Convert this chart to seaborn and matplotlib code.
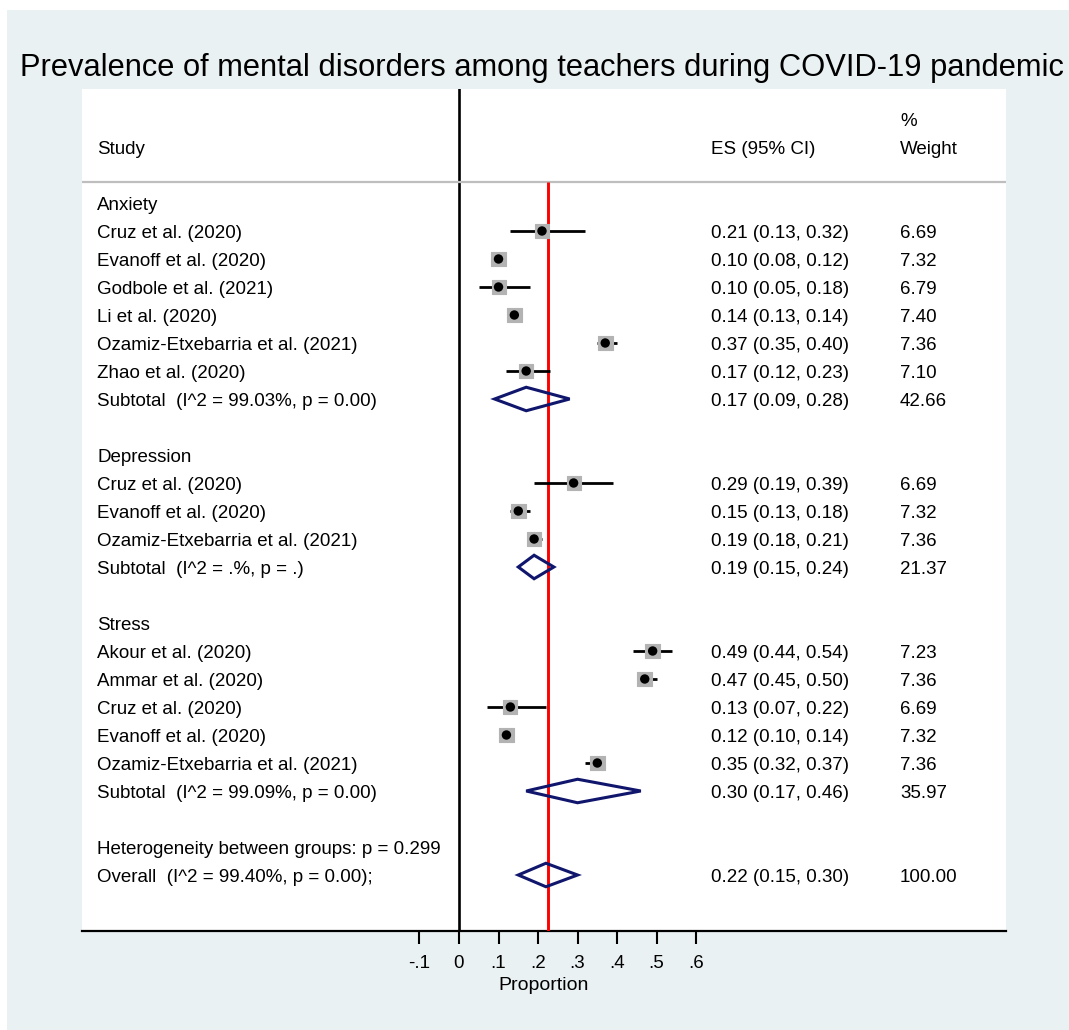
import matplotlib
matplotlib.use("Agg")
import matplotlib.pyplot as plt
from matplotlib.patches import Rectangle, Polygon
import seaborn as sns
import pandas as pd

# ---------------- data ----------------
title = "Prevalence of mental disorders among teachers during COVID-19 pandemic"

groups = ["Anxiety", "Depression", "Stress"]

anx_studies = ["Cruz et al. (2020)", "Evanoff et al. (2020)", "Godbole et al. (2021)",
               "Li et al. (2020)", "Ozamiz-Etxebarria et al. (2021)", "Zhao et al. (2020)"]
anx_es = [0.21, 0.10, 0.10, 0.14, 0.37, 0.17]
anx_lo = [0.13, 0.08, 0.05, 0.13, 0.35, 0.12]
anx_hi = [0.32, 0.12, 0.18, 0.14, 0.40, 0.23]
anx_w = [6.69, 7.32, 6.79, 7.40, 7.36, 7.10]
anx_sub = [0.17, 0.09, 0.28, 42.66]
anx_sub_label = "Subtotal  (I^2 = 99.03%, p = 0.00)"

dep_studies = ["Cruz et al. (2020)", "Evanoff et al. (2020)", "Ozamiz-Etxebarria et al. (2021)"]
dep_es = [0.29, 0.15, 0.19]
dep_lo = [0.19, 0.13, 0.18]
dep_hi = [0.39, 0.18, 0.21]
dep_w = [6.69, 7.32, 7.36]
dep_sub = [0.19, 0.15, 0.24, 21.37]
dep_sub_label = "Subtotal  (I^2 = .%, p = .)"

str_studies = ["Akour et al. (2020)", "Ammar et al. (2020)", "Cruz et al. (2020)",
               "Evanoff et al. (2020)", "Ozamiz-Etxebarria et al. (2021)"]
str_es = [0.49, 0.47, 0.13, 0.12, 0.35]
str_lo = [0.44, 0.45, 0.07, 0.10, 0.32]
str_hi = [0.54, 0.50, 0.22, 0.14, 0.37]
str_w = [7.23, 7.36, 6.69, 7.32, 7.36]
str_sub = [0.30, 0.17, 0.46, 35.97]
str_sub_label = "Subtotal  (I^2 = 99.09%, p = 0.00)"

het_label = "Heterogeneity between groups: p = 0.299"
overall = [0.22, 0.15, 0.30, 100.00]
overall_label = "Overall  (I^2 = 99.40%, p = 0.00);"

xticks = [-0.1, 0.0, 0.1, 0.2, 0.3, 0.4, 0.5, 0.6]
xtick_labels = ["-.1", "0", ".1", ".2", ".3", ".4", ".5", ".6"]

# ---------------- build rows ----------------
rows = []
blocks = [
    ("Anxiety", anx_studies, anx_es, anx_lo, anx_hi, anx_w, anx_sub, anx_sub_label),
    ("Depression", dep_studies, dep_es, dep_lo, dep_hi, dep_w, dep_sub, dep_sub_label),
    ("Stress", str_studies, str_es, str_lo, str_hi, str_w, str_sub, str_sub_label),
]
for g, st, es, lo, hi, w, sub, sublab in blocks:
    rows.append(dict(label=g, kind="group"))
    for s, e, l, h, ww in zip(st, es, lo, hi, w):
        rows.append(dict(label=s, kind="study", es=e, lo=l, hi=h, w=ww))
    rows.append(dict(label=sublab, kind="diamond", es=sub[0], lo=sub[1], hi=sub[2], w=sub[3]))
    rows.append(dict(label="", kind="blank"))
rows.append(dict(label=het_label, kind="text"))
rows.append(dict(label=overall_label, kind="diamond", es=overall[0], lo=overall[1],
                 hi=overall[2], w=overall[3]))
for i, r in enumerate(rows):
    r["y"] = i
df = pd.DataFrame(rows)
studies = df[df.kind == "study"].copy()
diamonds = df[df.kind == "diamond"].copy()

# ---------------- figure ----------------
W, H = 1069, 1030
FONT = "Liberation Sans"
plt.rcParams["font.family"] = [FONT, "DejaVu Sans"]
fig = plt.figure(figsize=(W / 100, H / 100), dpi=100, facecolor="white")
bg = Rectangle((7 / W, 0), 1 - 7 / W, 1 - 10 / H, transform=fig.transFigure,
               facecolor="#EAF1F3", edgecolor="none", zorder=-10)
fig.patches.append(bg)

ax_left, ax_right, ax_top, ax_bot = 82, 1006, 89, 931
ax = fig.add_axes([ax_left / W, 1 - ax_bot / H, (ax_right - ax_left) / W, (ax_bot - ax_top) / H])
ax.set_facecolor("white")

px_per_unit = 395.2
x0px = 459
row0px, rowpx = 203, 28
xmin = (ax_left - x0px) / px_per_unit
xmax = (ax_right - x0px) / px_per_unit
ymin = (ax_top - row0px) / rowpx
ymax = (ax_bot - row0px) / rowpx
ax.set_xlim(xmin, xmax)
ax.set_ylim(ymax, ymin)

fs = 13.5
cap_off = 0.716 * fs * 100 / 72 / 2 / rowpx  # half cap height in row units
line_y = (181.5 - row0px) / rowpx

# reference lines
ax.axvline(0, color="black", lw=1.9, zorder=2)
ax.vlines(overall[0] + 0.004, line_y, ymax, color="#FF0000", lw=2.1, zorder=4)
ax.hlines(line_y, xmin, xmax, color="#BEBEBE", lw=1.6, zorder=3)

# CIs
ax.hlines(studies.y, studies.lo, studies.hi, color="black", lw=2.0, zorder=5)
# weight boxes
sns.scatterplot(data=studies, x="es", y="y", size="w", sizes=(100, 112), marker="s",
                color="#B3B3B3", edgecolor="#B3B3B3", linewidth=0.8, legend=False,
                ax=ax, zorder=6)
# point estimates
sns.scatterplot(data=studies, x="es", y="y", s=46, marker="o", color="black",
                edgecolor="none", legend=False, ax=ax, zorder=7)

# diamonds
dh = 0.42
for _, r in diamonds.iterrows():
    poly = Polygon([(r.lo, r.y), (r.es, r.y - dh), (r.hi, r.y), (r.es, r.y + dh)],
                   closed=True, fill=False, edgecolor="#10166C", lw=2.2, zorder=8)
    ax.add_patch(poly)

# text columns
xs = (97 - x0px) / px_per_unit
xe = (711 - x0px) / px_per_unit
xw = (900 - x0px) / px_per_unit
hdr_y = (147 - row0px) / rowpx
pct_y = (119 - row0px) / rowpx


def put(x, y, s):
    ax.text(x, y + cap_off, s, fontsize=fs, va="baseline", ha="left")


put(xs, hdr_y, "Study")
put(xe, hdr_y, "ES (95% CI)")
put(xw, pct_y, "%")
put(xw, hdr_y, "Weight")

for _, r in df.iterrows():
    if r.label:
        put(xs, r.y, r.label)
    if r.kind in ("study", "diamond"):
        put(xe, r.y, f"{r.es:.2f} ({r.lo:.2f}, {r.hi:.2f})")
        put(xw, r.y, f"{r.w:.2f}")

# axes styling
for sp in ["top", "left", "right"]:
    ax.spines[sp].set_visible(False)
ax.spines["bottom"].set_linewidth(1.6)
ax.spines["bottom"].set_color("black")
ax.set_yticks([])
ax.set_ylabel("")
ax.set_xticks(xticks)
ax.set_xticklabels(xtick_labels, fontsize=fs)
ax.tick_params(axis="x", length=9.5, width=1.5, direction="out", pad=7.5, colors="black")
ax.set_xlabel("Proportion", fontsize=fs + 0.5)
ax.xaxis.set_label_coords((544 - ax_left) / (ax_right - ax_left),
                          -(986 - ax_bot) / (ax_bot - ax_top))
ax.xaxis.label.set_va("center")

fig.text(542 / W, 1 - 68 / H, title, fontsize=22.2, ha="center", va="center")

fig.savefig("out.png", dpi=100, facecolor="white")
